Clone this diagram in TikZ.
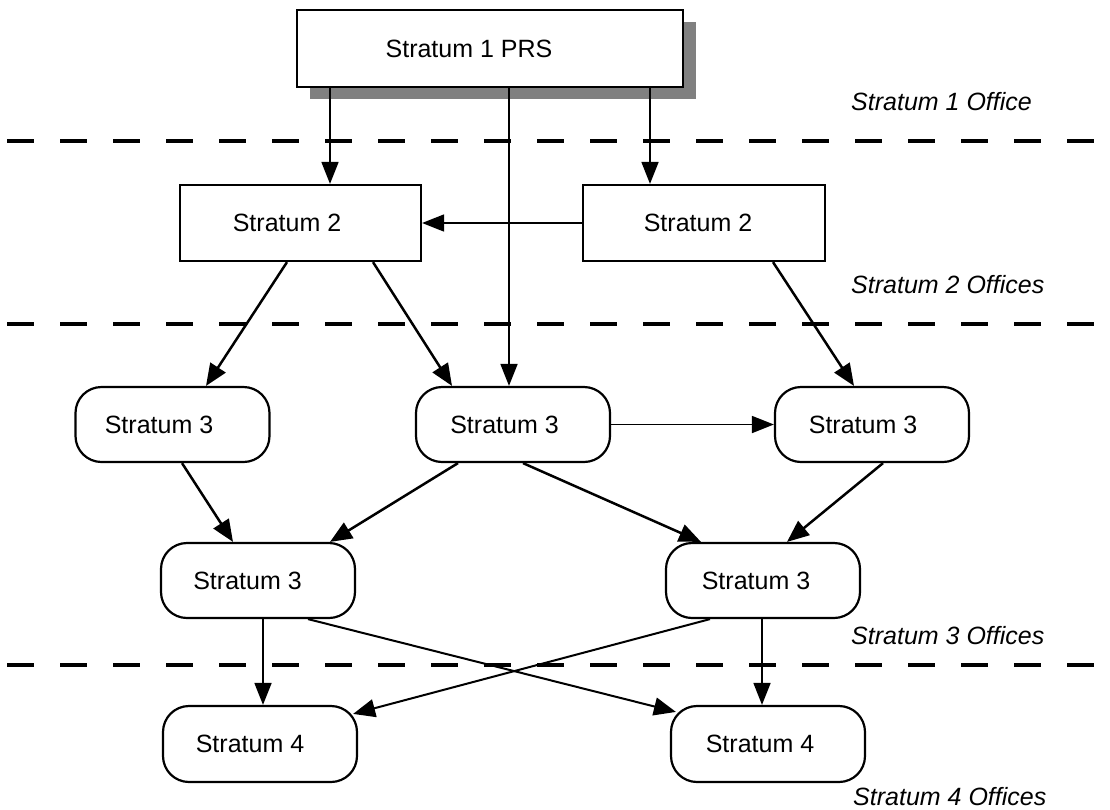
\documentclass[tikz,border=0pt]{standalone}
\usepackage{fontspec}
\setmainfont{Liberation Sans}
\usetikzlibrary{arrows.meta,shadows}

\begin{document}
\begin{tikzpicture}[x=1pt,y=-1pt,
  every node/.style={font=\fontsize{25}{30}\selectfont},
  sqbox/.style={draw, line width=2.2pt, fill=white, inner sep=0pt,
                minimum width=#1, minimum height=76pt},
  rbox/.style={draw, line width=2.2pt, fill=white, inner sep=0pt,
               rounded corners=26pt, minimum width=194pt, minimum height=75pt},
  txt/.style={inner sep=0pt},
  office/.style={inner sep=0pt, anchor=base west, font=\fontsize{25}{30}\selectfont\itshape},
  straight/.style={line width=1.7pt, -{Triangle[length=22pt,width=17pt]}},
  slant/.style={line width=2.5pt, -{Triangle[length=22pt,width=18pt]}},
  level/.style={line width=4.4pt, dash pattern=on 27pt off 26pt}
]
\useasboundingbox (0,0) rectangle (1110,809);

% level separators
\draw[level] (7,141) -- (1110,141);
\draw[level] (7,324) -- (1110,324);
\draw[level] (7,665) -- (1110,665);

% office labels
\node[office] (o1) at (851,110) {Stratum 1 Office};
\node[office] (o2) at (851,293) {Stratum 2 Offices};
\node[office] (o3) at (851,644) {Stratum 3 Offices};
\node[office] (o4) at (853,805) {Stratum 4 Offices};

% primary reference source
\node[sqbox=386pt, minimum height=77pt,
      drop shadow={shadow xshift=13pt, shadow yshift=-12pt, fill=black!50, opacity=1}]
      (prs) at (490,48.5) {};
\node[txt] (tprs) at ([xshift=-21pt]prs.center) {Stratum 1 PRS};

% stratum 2
\node[sqbox=241pt] (s2l) at (300.5,223) {};
\node[txt] (ts2l) at ([xshift=-13.5pt]s2l.center) {Stratum 2};
\node[sqbox=242pt] (s2r) at (704,223) {};
\node[txt] (ts2r) at ([xshift=-6pt]s2r.center) {Stratum 2};

% stratum 3, upper row
\node[rbox] (s3l) at (172.5,424.5) {};
\node[txt] (ts3l) at ([xshift=-13.5pt]s3l.center) {Stratum 3};
\node[rbox] (s3m) at (513,424.5) {};
\node[txt] (ts3m) at ([xshift=-8.5pt]s3m.center) {Stratum 3};
\node[rbox] (s3r) at (872,424.5) {};
\node[txt] (ts3r) at ([xshift=-9pt]s3r.center) {Stratum 3};

% stratum 3, lower row
\node[rbox] (s3ll) at (258,580.5) {};
\node[txt] (ts3ll) at ([xshift=-10.5pt]s3ll.center) {Stratum 3};
\node[rbox] (s3lr) at (763,580.5) {};
\node[txt] (ts3lr) at ([xshift=-7pt]s3lr.center) {Stratum 3};

% stratum 4
\node[rbox, minimum height=76pt] (s4l) at (260,744) {};
\node[txt] (ts4l) at ([xshift=-10pt]s4l.center) {Stratum 4};
\node[rbox, minimum height=76pt] (s4r) at (768,744) {};
\node[txt] (ts4r) at ([xshift=-8pt]s4r.center) {Stratum 4};

% timing distribution
\draw[straight] ([xshift=-160pt]prs.south) -- ([xshift=29.5pt]s2l.north);
\draw[straight] ([xshift=19pt]prs.south) -- ([xshift=-4pt]s3m.north);
\draw[straight] ([xshift=160pt]prs.south) -- ([xshift=-54pt]s2r.north);
\draw[straight] (s2r.west) -- (s2l.east);

\draw[slant] ([xshift=-13.5pt]s2l.south) -- ([xshift=33.5pt]s3l.north);
\draw[slant] ([xshift=72.5pt]s2l.south) -- ([xshift=-61pt]s3m.north);
\draw[slant] ([xshift=69pt]s2r.south) -- ([xshift=-18pt]s3r.north);
\draw[straight] (s3m.east) -- (s3r.west);

\draw[slant] ([xshift=9.5pt]s3l.south) -- ([xshift=-25pt]s3ll.north);
\draw[slant] ([xshift=-55pt]s3m.south) -- ([xshift=72pt]s3ll.north);
\draw[slant] ([xshift=10pt]s3m.south) -- ([xshift=-62pt]s3lr.north);
\draw[slant] ([xshift=11pt]s3r.south) -- ([xshift=24pt]s3lr.north);

\draw[straight] ([xshift=5pt]s3ll.south) -- ([xshift=3pt]s4l.north);
\draw[slant, line width=2pt] ([xshift=50pt]s3ll.south) -- ([xshift=6pt,yshift=-7pt]s4r.north west);
\draw[slant, line width=2pt] ([xshift=-53pt]s3lr.south) -- ([xshift=-5pt,yshift=-9pt]s4l.north east);
\draw[straight] ([xshift=-1pt]s3lr.south) -- ([xshift=-6pt]s4r.north);
\end{tikzpicture}
\end{document}
